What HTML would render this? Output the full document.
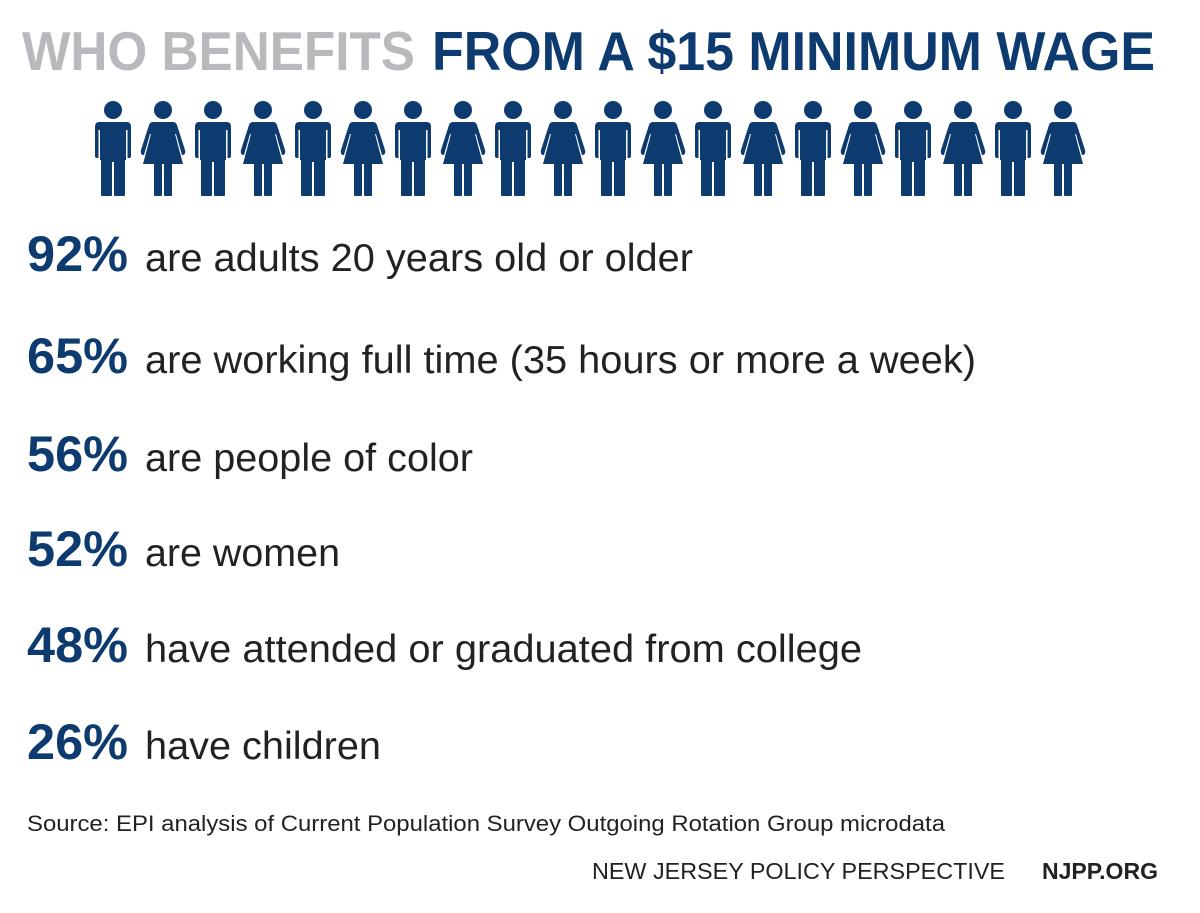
<!DOCTYPE html>
<html><head><meta charset="utf-8"><style>
html,body{margin:0;padding:0;background:#fff;}
svg{display:block;}
text{font-family:"Liberation Sans",Arial,sans-serif;}
</style></head><body>
<svg width="1200" height="913" viewBox="0 0 1200 913" xmlns="http://www.w3.org/2000/svg">
<defs>
<g id="man" fill="#0d3b70">
<circle cx="0" cy="110" r="9"/>
<path d="M-14,122 H14 Q18,122 18,127 V156 Q18,158 16,158 H14.5 V130 H13 V160 H12 V195 Q12,196 11,196 H2 Q1,196 1,195 V162 H-1 V195 Q-1,196 -2,196 H-11 Q-12,196 -12,195 V160 H-13 V130 H-14.5 V158 H-16 Q-18,158 -18,156 V127 Q-18,122 -14,122 Z"/>
</g>
<g id="woman" fill="#0d3b70">
<circle cx="0" cy="110" r="9"/>
<path d="M-10,122 H10 Q13,122 14,125 L22,150 Q23,154 20,155 L19,155 L13,134 L12,134 L20,164 H9 V195 Q9,196 8,196 H2 Q1,196 1,195 V164 H-1 V195 Q-1,196 -2,196 H-8 Q-9,196 -9,195 V164 H-20 L-12,134 L-13,134 L-19,155 L-20,155 Q-23,154 -22,150 L-14,125 Q-13,122 -10,122 Z"/>
</g>
</defs>
<text x="22" y="70" font-size="55" font-weight="bold" fill="#b8b9bc" textLength="393" lengthAdjust="spacingAndGlyphs">WHO BENEFITS</text>
<text x="432" y="70" font-size="55" font-weight="bold" fill="#0d3b70" textLength="723" lengthAdjust="spacingAndGlyphs">FROM A $15 MINIMUM WAGE</text>
<use href="#man" x="113"/><use href="#woman" x="163"/>
<use href="#man" x="213"/><use href="#woman" x="263"/>
<use href="#man" x="313"/><use href="#woman" x="363"/>
<use href="#man" x="413"/><use href="#woman" x="463"/>
<use href="#man" x="513"/><use href="#woman" x="563"/>
<use href="#man" x="613"/><use href="#woman" x="663"/>
<use href="#man" x="713"/><use href="#woman" x="763"/>
<use href="#man" x="813"/><use href="#woman" x="863"/>
<use href="#man" x="913"/><use href="#woman" x="963"/>
<use href="#man" x="1013"/><use href="#woman" x="1063"/>
<g font-size="50" font-weight="bold" fill="#0d3b70">
<text x="27" y="271" textLength="101" lengthAdjust="spacingAndGlyphs">92%</text>
<text x="27" y="373" textLength="101" lengthAdjust="spacingAndGlyphs">65%</text>
<text x="27" y="471" textLength="101" lengthAdjust="spacingAndGlyphs">56%</text>
<text x="27" y="566" textLength="101" lengthAdjust="spacingAndGlyphs">52%</text>
<text x="27" y="662" textLength="101" lengthAdjust="spacingAndGlyphs">48%</text>
<text x="27" y="759" textLength="101" lengthAdjust="spacingAndGlyphs">26%</text>
</g>
<g font-size="39" fill="#222">
<text x="145" y="271" textLength="548" lengthAdjust="spacingAndGlyphs">are adults 20 years old or older</text>
<text x="145" y="373" textLength="831" lengthAdjust="spacingAndGlyphs">are working full time (35 hours or more a week)</text>
<text x="145" y="471" textLength="328" lengthAdjust="spacingAndGlyphs">are people of color</text>
<text x="145" y="566" textLength="195" lengthAdjust="spacingAndGlyphs">are women</text>
<text x="145" y="662" textLength="717" lengthAdjust="spacingAndGlyphs">have attended or graduated from college</text>
<text x="145" y="759" textLength="236" lengthAdjust="spacingAndGlyphs">have children</text>
</g>
<text x="27" y="831" font-size="22" fill="#222" textLength="918" lengthAdjust="spacingAndGlyphs">Source: EPI analysis of Current Population Survey Outgoing Rotation Group microdata</text>
<text x="592" y="879" font-size="23" fill="#222" textLength="413" lengthAdjust="spacingAndGlyphs">NEW JERSEY POLICY PERSPECTIVE</text>
<text x="1042" y="879" font-size="23" font-weight="bold" fill="#222" textLength="116" lengthAdjust="spacingAndGlyphs">NJPP.ORG</text>
</svg>
</body></html>
